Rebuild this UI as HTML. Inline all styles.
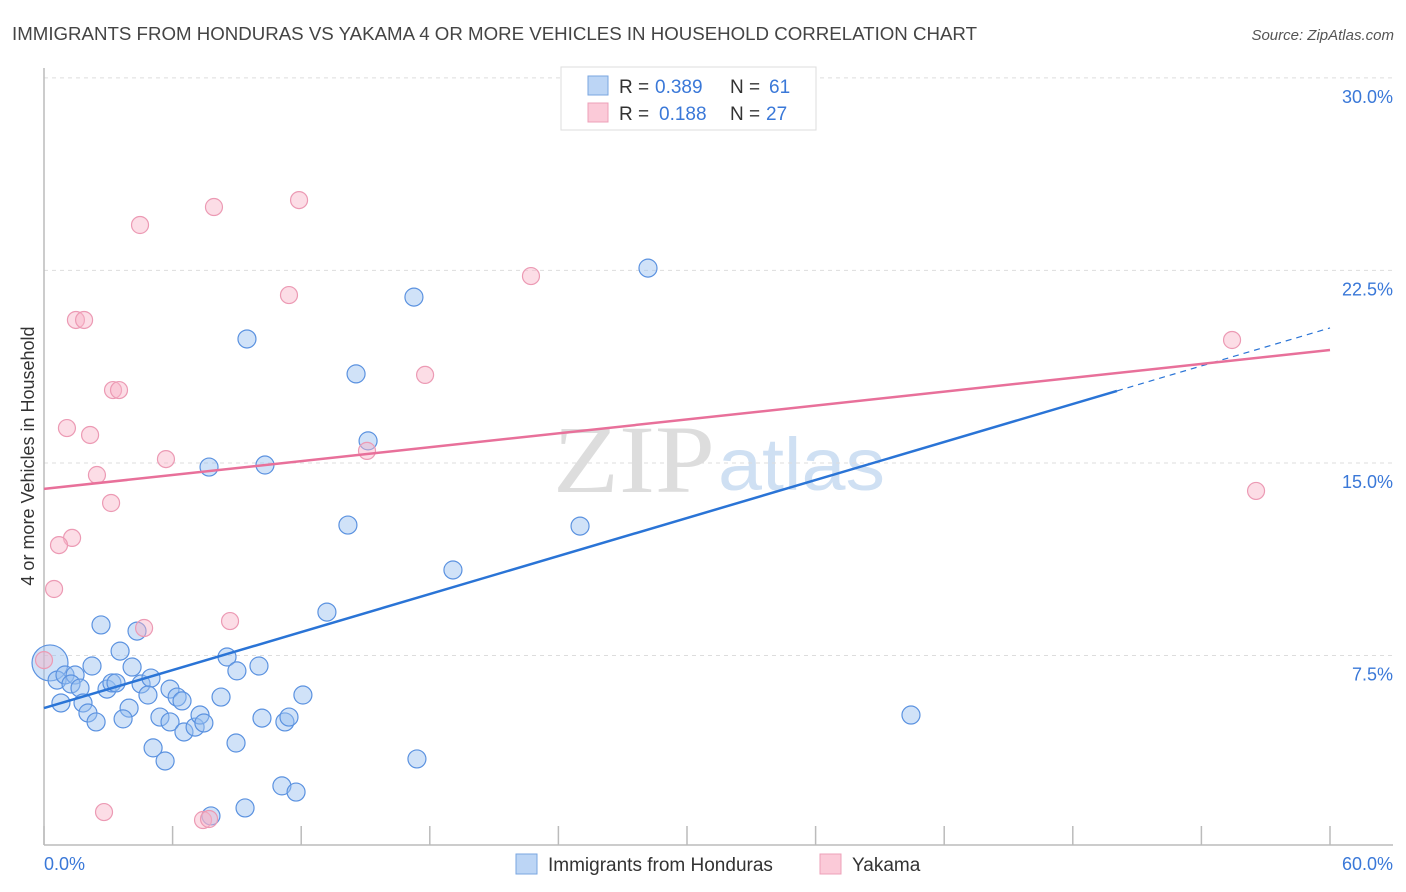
<!DOCTYPE html>
<html><head><meta charset="utf-8"><style>
body{margin:0;background:#fff;font-family:"Liberation Sans",sans-serif}
svg{display:block}
</style></head><body>
<svg width="1406" height="892">
<text x="12" y="40" font-size="18" fill="#444" textLength="965" lengthAdjust="spacingAndGlyphs">IMMIGRANTS FROM HONDURAS VS YAKAMA 4 OR MORE VEHICLES IN HOUSEHOLD CORRELATION CHART</text>
<text x="1394" y="40" font-size="15" fill="#555" font-style="italic" text-anchor="end">Source: ZipAtlas.com</text>
<g>
<text x="553" y="492" font-size="96" font-family="Liberation Serif,serif" fill="#ddd" textLength="162" lengthAdjust="spacingAndGlyphs">ZIP</text>
<text x="718" y="490" font-size="74" fill="#cfe0f3" textLength="167" lengthAdjust="spacingAndGlyphs">atlas</text>
</g>
<g id="grid"></g>
<line x1="44" y1="68" x2="44" y2="845" stroke="#bbb" stroke-width="1.5"/>
<line x1="44" y1="845" x2="1393" y2="845" stroke="#bbb" stroke-width="1.5"/>
<g id="xticks"></g>
<text x="44" y="870" font-size="18" fill="#3a78d8">0.0%</text>
<text x="1393" y="870" font-size="18" fill="#3a78d8" text-anchor="end">60.0%</text>
<text transform="translate(34,456) rotate(-90)" font-size="18" fill="#333" text-anchor="middle">4 or more Vehicles in Household</text>
<g id="pts"></g>
<g id="lines"></g>
<g>
<rect x="561" y="67" width="255" height="63" fill="#fff" stroke="#ddd"/>
<rect x="588" y="76" width="20" height="19" fill="#bcd5f5" stroke="#7aa6e0"/>
<rect x="588" y="103" width="20" height="19" fill="#fbcad8" stroke="#eea0b8"/>
<text x="619" y="93" font-size="19" fill="#333">R =</text>
<text x="655" y="93" font-size="19" fill="#3a78d8">0.389</text>
<text x="730" y="93" font-size="19" fill="#333">N =</text>
<text x="769" y="93" font-size="19" fill="#3a78d8">61</text>
<text x="619" y="120" font-size="19" fill="#333">R =</text>
<text x="659" y="120" font-size="19" fill="#3a78d8">0.188</text>
<text x="730" y="120" font-size="19" fill="#333">N =</text>
<text x="766" y="120" font-size="19" fill="#3a78d8">27</text>
</g>
<g>
<rect x="516" y="854" width="21" height="20" fill="#bcd5f5" stroke="#7aa6e0"/>
<text x="548" y="871" font-size="19" fill="#333">Immigrants from Honduras</text>
<rect x="820" y="854" width="21" height="20" fill="#fbcad8" stroke="#eea0b8"/>
<text x="852" y="871" font-size="19" fill="#333">Yakama</text>
</g>
</svg>
<script>
const yTicks=[7.5,15,22.5,30];
const xTicks=[0,6,12,18,24,30,36,42,48,54,60];
const blueX=[0.28,2.66,4.34,2.24,3.55,4.11,0.61,0.98,1.45,1.26,1.68,2.94,3.17,3.36,4.53,4.99,4.85,5.88,6.21,6.44,0.79,1.82,2.05,2.43,3.97,3.69,5.41,5.88,6.53,7.05,7.28,7.46,8.26,8.54,9.00,10.03,10.17,11.24,11.43,12.08,5.09,5.65,8.96,11.10,11.76,9.38,7.79,13.20,9.47,17.26,28.18,14.56,15.12,7.70,10.31,14.18,25.01,19.08,17.40,40.45];
const blueY=[7.21,8.69,8.45,7.09,7.67,7.05,6.54,6.74,6.74,6.39,6.23,6.19,6.43,6.43,6.39,6.62,5.96,6.19,5.88,5.73,5.65,5.65,5.26,4.91,5.45,5.03,5.10,4.91,4.52,4.71,5.18,4.87,5.88,7.44,6.90,7.09,5.06,4.91,5.10,5.96,3.90,3.39,4.09,2.42,2.18,1.56,1.25,9.19,19.83,21.46,22.59,18.47,15.86,14.84,14.92,12.58,12.54,10.83,3.47,5.18];
const pinkX=[4.48,7.93,11.90,11.43,22.72,1.49,1.87,3.22,3.50,1.07,2.15,17.78,2.47,5.69,15.07,3.13,1.31,0.70,0.47,4.67,8.68,2.80,7.42,7.70,0.0,55.43,56.55];
const pinkY=[24.27,24.97,25.24,21.54,22.28,20.57,20.57,17.84,17.84,16.36,16.09,18.43,14.53,15.15,15.47,13.44,12.08,11.80,10.09,8.57,8.84,1.40,1.09,1.13,7.32,19.79,13.91];
const blueTrend=[5.45,20.26];
const pinkTrend=[13.99,19.4];
const blueSolidEnd=50.06;
const NS='http://www.w3.org/2000/svg';
const sx=v=>44+v/60*1286, sy=v=>848-v*25.67;
function mk(t,a,p){const e=document.createElementNS(NS,t);for(const k in a)e.setAttribute(k,a[k]);p.appendChild(e);return e;}
const grid=document.getElementById('grid');
yTicks.forEach(v=>{
 const l=mk('line',{x1:44,x2:1393,y1:sy(v),y2:sy(v),stroke:'#ddd','stroke-dasharray':'4,4'},grid);
 
 
 const t=mk('text',{x:1393,y:sy(v)+25,'font-size':18,fill:'#3a78d8','text-anchor':'end'},grid);
 t.textContent=v.toFixed(1)+'%';
 
 
});
const xt=document.getElementById('xticks');
xTicks.forEach(v=>{
 const l=mk('line',{x1:sx(v),x2:sx(v),y1:826,y2:845,stroke:'#bbb','stroke-width':1.5},xt);
 
 
});
const pts=document.getElementById('pts');
blueX.forEach((x,i)=>{
 const c=mk('circle',{cx:sx(x),cy:sy(blueY[i]),r:i===0?18:9,fill:'rgba(150,190,240,0.45)',stroke:'#5b92e0','stroke-width':1.2},pts);
 
 
});
pinkX.forEach((x,i)=>{
 const c=mk('circle',{cx:sx(x),cy:sy(pinkY[i]),r:8.5,fill:'rgba(248,180,200,0.45)',stroke:'#ec9ab4','stroke-width':1.2},pts);
 
 
});
const ln=document.getElementById('lines');
const by=x=>blueTrend[0]+(blueTrend[1]-blueTrend[0])*x/60;
let a=mk('line',{x1:sx(0),y1:sy(by(0)),x2:sx(blueSolidEnd),y2:sy(by(blueSolidEnd)),stroke:'#2a74d6','stroke-width':2.5},ln);


a=mk('line',{x1:sx(blueSolidEnd),y1:sy(by(blueSolidEnd)),x2:sx(60),y2:sy(by(60)),stroke:'#2a74d6','stroke-width':1.2,'stroke-dasharray':'6,5'},ln);


a=mk('line',{x1:sx(0),y1:sy(pinkTrend[0]),x2:sx(60),y2:sy(pinkTrend[1]),stroke:'#e8709a','stroke-width':2.5},ln);


</script>
</body></html>
